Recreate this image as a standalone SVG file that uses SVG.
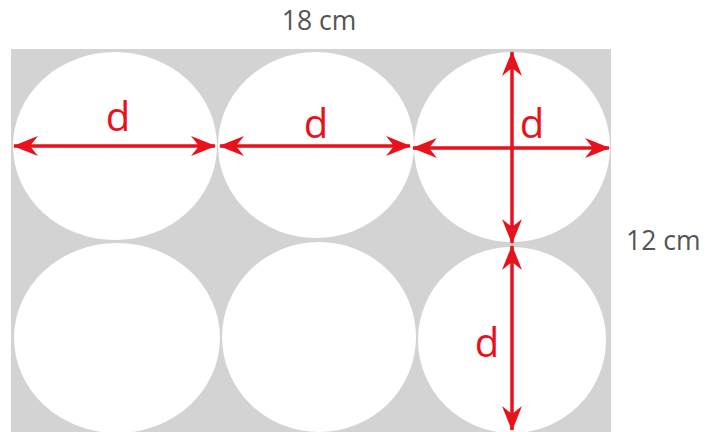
<svg xmlns="http://www.w3.org/2000/svg" width="718" height="432" viewBox="0 0 718 432">
<defs>
<style>
.bg{fill:#d3d3d3}
.c{fill:#ffffff}
.a{stroke:#e8111c;stroke-width:3.5;fill:none;marker-start:url(#ah);marker-end:url(#ah)}
.d{font-family:"Open Sans","DejaVu Sans",sans-serif;font-size:40px;fill:#e8111c}
.m{font-family:"Open Sans","DejaVu Sans",sans-serif;font-size:26.5px;fill:#555555}
</style>
<marker id="ah" markerUnits="userSpaceOnUse" markerWidth="28" markerHeight="24" refX="25" refY="12" orient="auto-start-reverse">
<path d="M1,2 L26,12 L1,22 L9,12 z" fill="#e8111c"/>
</marker>
</defs>
<rect x="0" y="0" width="718" height="432" fill="#ffffff"/>
<rect class="bg" x="11" y="49" width="600" height="390"/>
<g id="circle-r1c1"><ellipse class="c" cx="115" cy="146" rx="102" ry="94"/></g>
<g id="circle-r1c2"><ellipse class="c" cx="316" cy="145" rx="98" ry="93"/></g>
<g id="circle-r1c3"><ellipse class="c" cx="512" cy="147" rx="98" ry="95"/></g>
<g id="circle-r2c1"><ellipse class="c" cx="117" cy="338" rx="103" ry="95"/></g>
<g id="circle-r2c2"><ellipse class="c" cx="319" cy="337" rx="97" ry="95"/></g>
<g id="circle-r2c3"><ellipse class="c" cx="512" cy="340" rx="94" ry="93"/></g>
<g id="connectors">
<line class="a" x1="14" y1="146" x2="215" y2="146"/>
<line class="a" x1="220" y1="146" x2="410" y2="146"/>
<line class="a" x1="413" y1="148" x2="609" y2="148"/>
<line class="a" x1="512" y1="52" x2="512" y2="243"/>
<line class="a" x1="512" y1="246" x2="512" y2="430"/>
</g>
<g id="labels">
<text class="d" x="118" y="131" text-anchor="middle">d</text>
<text class="d" x="316" y="138" text-anchor="middle">d</text>
<text class="d" x="532" y="138" text-anchor="middle">d</text>
<text class="d" x="487" y="357" text-anchor="middle">d</text>
<text class="m" x="319" y="30" text-anchor="middle">18 cm</text>
<text class="m" x="626" y="250">12 cm</text>
</g>
</svg>
